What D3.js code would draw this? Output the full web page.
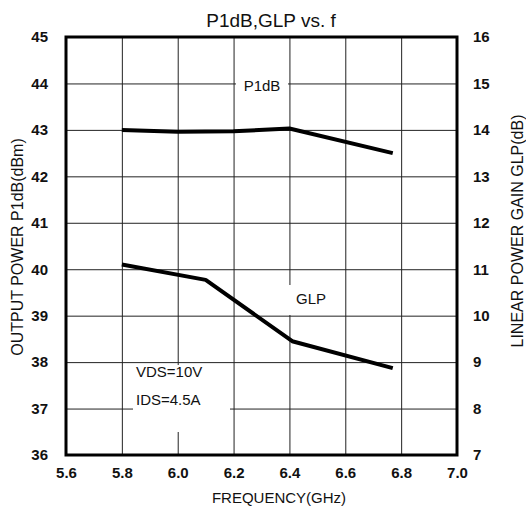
<!DOCTYPE html>
<html>
<head>
<meta charset="utf-8">
<script src="https://cdn.jsdelivr.net/npm/d3@7"></script>
<style>
  body { margin: 0; background: #fff; }
  svg { display: block; font-family: "Liberation Sans", Arial, sans-serif; }
</style>
</head>
<body>
<div id="chart"></div>
<script>
// frequency axis and series
var freqTicks = [5.6, 5.8, 6.0, 6.2, 6.4, 6.6, 6.8, 7.0];
var powerTicks = [36, 37, 38, 39, 40, 41, 42, 43, 44, 45];
var gainTicks = [7, 8, 9, 10, 11, 12, 13, 14, 15, 16];

var p1dbFreq = [5.8, 6.0, 6.2, 6.4, 6.77];
var p1dbVal = [43.0, 42.96, 42.97, 43.03, 42.5];

var glpFreq = [5.8, 6.1, 6.41, 6.77];
var glpVal = [11.1, 10.77, 9.45, 8.87];

var W = 526, H = 513;
var pad = [37, 69, 58, 66]; // top, right, bottom, left

var svg = d3.select('#chart').append('svg')
    .attr('width', W).attr('height', H);

var x = d3.scaleLinear().domain([5.6, 7.0]).range([pad[3], W - pad[1]]);
var yL = d3.scaleLinear().domain([36, 45]).range([H - pad[2], pad[0]]);
var yR = d3.scaleLinear().domain([7, 16]).range([H - pad[2], pad[0]]);

var plotW = W - pad[1] - pad[3];
var plotH = H - pad[0] - pad[2];

// grid
var grid = svg.append('g').attr('class', 'grid');
grid.append('g')
    .attr('transform', 'translate(0,' + (H - pad[2]) + ')')
    .call(d3.axisBottom(x).tickValues(freqTicks).tickSizeInner(-plotH).tickSizeOuter(0).tickFormat(''));
grid.append('g')
    .attr('transform', 'translate(' + pad[3] + ',0)')
    .call(d3.axisLeft(yL).tickValues(powerTicks).tickSizeInner(-plotW).tickSizeOuter(0).tickFormat(''));
grid.selectAll('.domain').remove();
grid.selectAll('line').attr('stroke', '#222').attr('stroke-width', 1);

// white gaps in the grid behind the in-plot labels
var gaps = [[236, 75, 52, 17], [287, 285, 46, 30], [133, 365, 97, 67]];
svg.append('g').selectAll('rect').data(gaps).enter().append('rect')
    .attr('x', function (d) { return d[0]; })
    .attr('y', function (d) { return d[1]; })
    .attr('width', function (d) { return d[2]; })
    .attr('height', function (d) { return d[3]; })
    .attr('fill', '#fff');

// frame
svg.append('rect')
    .attr('x', pad[3]).attr('y', pad[0])
    .attr('width', plotW).attr('height', plotH)
    .attr('fill', 'none').attr('stroke', '#000').attr('stroke-width', 3);

// tick labels
var tickFont = function (g) {
    g.select('.domain').remove();
    g.selectAll('text').attr('font-size', 15).attr('font-weight', 'bold').attr('fill', '#111')
        .attr('font-family', '"Liberation Sans", Arial, sans-serif');
};
svg.append('g')
    .attr('transform', 'translate(0,' + (H - pad[2]) + ')')
    .call(d3.axisBottom(x).tickValues(freqTicks).tickSize(0).tickPadding(12).tickFormat(d3.format('.1f')))
    .call(tickFont);
svg.append('g')
    .attr('transform', 'translate(' + pad[3] + ',0)')
    .call(d3.axisLeft(yL).tickValues(powerTicks).tickSize(0).tickPadding(18))
    .call(tickFont);
svg.append('g')
    .attr('transform', 'translate(' + (W - pad[1]) + ',0)')
    .call(d3.axisRight(yR).tickValues(gainTicks).tickSize(0).tickPadding(16))
    .call(tickFont);

// series
var line = d3.line()
    .x(function (d) { return x(d[0]); })
    .y(function (d) { return d[2](d[1]); });

var series = [
    d3.zip(p1dbFreq, p1dbVal).map(function (d) { return [d[0], d[1], yL]; }),
    d3.zip(glpFreq, glpVal).map(function (d) { return [d[0], d[1], yR]; })
];
svg.append('g').selectAll('path').data(series).enter().append('path')
    .attr('d', line)
    .attr('fill', 'none')
    .attr('stroke', '#000')
    .attr('stroke-width', 4)
    .attr('stroke-linejoin', 'round');

// labels
var txt = function (s, tx, ty, size, anchor, rot) {
    var t = svg.append('text')
        .attr('x', tx).attr('y', ty)
        .attr('font-size', size)
        .attr('text-anchor', anchor || 'middle')
        .attr('dominant-baseline', 'central')
        .attr('fill', '#111')
        .text(s);
    if (rot) t.attr('transform', 'rotate(' + rot + ',' + tx + ',' + ty + ')');
    return t;
};
txt('P1dB,GLP vs. f', 271, 20, 19);
txt('FREQUENCY(GHz)', 279, 497, 15);
txt('OUTPUT POWER P1dB(dBm)', 17, 247, 16, 'middle', -90);
txt('LINEAR POWER GAIN GLP(dB)', 517, 231, 16, 'middle', -90);
txt('P1dB', 262, 85, 15);
txt('GLP', 311, 298, 15);
txt('VDS=10V', 136, 371, 15, 'start');
txt('IDS=4.5A', 136, 399, 15, 'start');
</script>
</body>
</html>
